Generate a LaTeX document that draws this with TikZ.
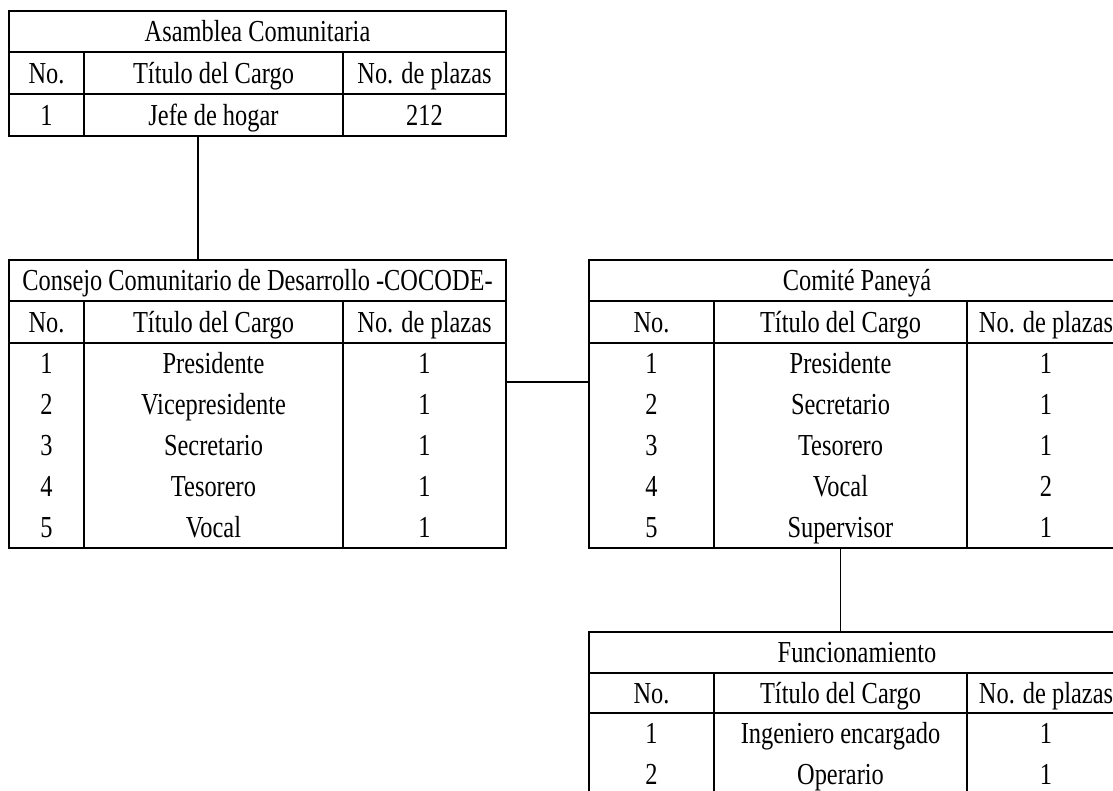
\documentclass[tikz,border=0pt]{standalone}
\usepackage{fontspec}
\setmainfont{Liberation Serif}[FakeStretch=0.8]
\begin{document}
\begin{tikzpicture}[x=1pt,y=-1pt,
  tline/.style={line width=1.4pt},
  cell/.style={inner sep=0pt, text height=20pt, text depth=0pt, font=\fontsize{30.5}{35}\selectfont},
  tbox/.style={draw, line width=1.4pt, inner sep=0pt, outer sep=0pt, anchor=north west}]
\useasboundingbox (0,0) rectangle (1113,790);

% ---------------- Asamblea Comunitaria
\node[tbox, minimum width=497pt, minimum height=125pt] (asam) at (9,11) {};
\draw[tline] (9,52) -- (506,52) (9,94) -- (506,94);
\draw[tline] (84,52) -- (84,136) (343,52) -- (343,136);
\node[cell] (asamT) at (257.5,31.5) {Asamblea Comunitaria};
\node[cell] (asamH1) at (46.5,73) {No.};
\node[cell] (asamH2) at (213.5,73) {Título del Cargo};
\node[cell] (asamH3) at (424.5,73) {No. de plazas};
\node[cell] (asamR1) at (46.5,115) {1};
\node[cell] (asamR2) at (213.5,115) {Jefe de hogar};
\node[cell] (asamR3) at (424.5,115) {212};

% ---------------- COCODE
\node[tbox, minimum width=497pt, minimum height=288pt] (cocode) at (9,260) {};
\draw[tline] (9,301) -- (506,301) (9,343) -- (506,343);
\draw[tline] (84,301) -- (84,548) (343,301) -- (343,548);
\node[cell] (cocT) at (257.5,280.5) {Consejo Comunitario de Desarrollo -COCODE-};
\node[cell] (cocH1) at (46.5,322) {No.};
\node[cell] (cocH2) at (213.5,322) {Título del Cargo};
\node[cell] (cocH3) at (424.5,322) {No. de plazas};
\foreach \n/\t/\p [count=\i] in {1/Presidente/1,2/Vicepresidente/1,3/Secretario/1,4/Tesorero/1,5/Vocal/1}{
  \node[cell] (cocA\i) at (46.5,322+41*\i) {\n};
  \node[cell] (cocB\i) at (213.5,322+41*\i) {\t};
  \node[cell] (cocC\i) at (424.5,322+41*\i) {\p};
}

% ---------------- Comite Paneya
\node[tbox, minimum width=536pt, minimum height=288pt] (comite) at (589,260) {};
\draw[tline] (589,301) -- (1125,301) (589,343) -- (1125,343);
\draw[tline] (714,301) -- (714,548) (967,301) -- (967,548);
\node[cell] (comT) at (857,280.5) {Comité Paneyá};
\node[cell] (comH1) at (651.5,322) {No.};
\node[cell] (comH2) at (840.5,322) {Título del Cargo};
\node[cell] (comH3) at (1046,322) {No. de plazas};
\foreach \n/\t/\p [count=\i] in {1/Presidente/1,2/Secretario/1,3/Tesorero/1,4/Vocal/2,5/Supervisor/1}{
  \node[cell] (comA\i) at (651.5,322+41*\i) {\n};
  \node[cell] (comB\i) at (840.5,322+41*\i) {\t};
  \node[cell] (comC\i) at (1046,322+41*\i) {\p};
}

% ---------------- Funcionamiento
\node[tbox, minimum width=536pt, minimum height=163pt] (func) at (589,632) {};
\draw[tline] (589,673) -- (1125,673) (589,713) -- (1125,713);
\draw[tline] (714,673) -- (714,795) (967,673) -- (967,795);
\node[cell] (funT) at (857,652.5) {Funcionamiento};
\node[cell] (funH1) at (651.5,693) {No.};
\node[cell] (funH2) at (840.5,693) {Título del Cargo};
\node[cell] (funH3) at (1046,693) {No. de plazas};
\node[cell] (funA1) at (651.5,733.5) {1};
\node[cell] (funB1) at (840.5,733.5) {Ingeniero encargado};
\node[cell] (funC1) at (1046,733.5) {1};
\node[cell] (funA2) at (651.5,774.5) {2};
\node[cell] (funB2) at (840.5,774.5) {Operario};
\node[cell] (funC2) at (1046,774.5) {1};

% ---------------- connectors
\coordinate (k1) at (198,0);
\coordinate (k2) at (0,382);
\coordinate (k3) at (840.5,0);
\draw[tline] (asam.south -| k1) -- (cocode.north -| k1);
\draw[tline] (cocode.east |- k2) -- (comite.west |- k2);
\draw[tline] (comite.south -| k3) -- (func.north -| k3);
\end{tikzpicture}
\end{document}
